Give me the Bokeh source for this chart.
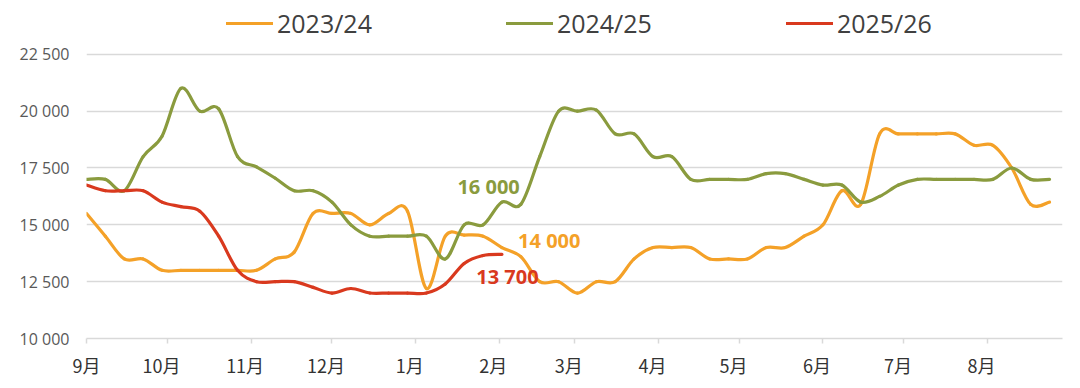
from bokeh.plotting import figure
from bokeh.models import Range1d, FixedTicker, Legend, LegendItem, ColumnDataSource
from bokeh.core.properties import value
from bokeh.embed import file_html
from bokeh.resources import INLINE

# ---- data (weekly) ----
season_2023_24 = [15500, 14500, 13500, 13500, 13000, 13000, 13000, 13000, 13000, 13000,
                  13500, 13800, 15500, 15500, 15500, 15000, 15500, 15600, 12200, 14500,
                  14550, 14500, 14000, 13600, 12500, 12500, 12000, 12500, 12500, 13500,
                  14000, 14000, 14000, 13500, 13500, 13500, 14000, 14000, 14500, 15000,
                  16500, 15900, 19000, 19000, 19000, 19000, 19000, 18500, 18500, 17500,
                  15900, 16000]
season_2024_25 = [17000, 17000, 16500, 18000, 18900, 21000, 20000, 20100, 18000, 17550,
                  17050, 16500, 16500, 16000, 15000, 14500, 14500, 14500, 14500, 13500,
                  15000, 15000, 16000, 15900, 18000, 20000, 20000, 20050, 19000, 19000,
                  18000, 18000, 17000, 17000, 17000, 17000, 17250, 17250, 17000, 16750,
                  16750, 16000, 16250, 16750, 17000, 17000, 17000, 17000, 17000, 17500,
                  17000, 17000]
season_2025_26 = [16750, 16500, 16500, 16500, 16000, 15800, 15600, 14500, 13000, 12500,
                  12500, 12500, 12250, 12000, 12200, 12000, 12000, 12000, 12000, 12400,
                  13300, 13650, 13700]

series_names = ["2023/24", "2024/25", "2025/26"]
series_colors = ["#F4A128", "#8A9B3E", "#D9391E"]

month_labels = ["9月", "10月", "11月", "12月", "1月", "2月", "3月", "4月", "5月", "6月", "7月", "8月"]
month_start_days = [0, 30, 61, 91, 122, 153, 181, 212, 242, 273, 303, 334]
y_ticks = [10000, 12500, 15000, 17500, 20000, 22500]
y_tick_labels = ["10 000", "12 500", "15 000", "17 500", "20 000", "22 500"]

last_labels = ["14 000", "16 000", "13 700"]
DAYS_PER_WEEK = 7
LABEL_SHIFT = -2.2  # month labels sit a little left of their tick marks


def smooth_segments(vals):
    """Excel-like smoothed line: one cubic Bezier per pair of points."""
    xs = [i * DAYS_PER_WEEK for i in range(len(vals))]
    n = len(vals)
    d = dict(x0=[], y0=[], x1=[], y1=[], cx0=[], cy0=[], cx1=[], cy1=[])
    for i in range(n - 1):
        p = max(i - 1, 0)
        q = min(i + 2, n - 1)
        d["x0"].append(xs[i]); d["y0"].append(vals[i])
        d["x1"].append(xs[i + 1]); d["y1"].append(vals[i + 1])
        d["cx0"].append(xs[i] + (xs[i + 1] - xs[p]) / 6.0)
        d["cy0"].append(vals[i] + (vals[i + 1] - vals[p]) / 6.0)
        d["cx1"].append(xs[i + 1] - (xs[q] - xs[i]) / 6.0)
        d["cy1"].append(vals[i + 1] - (vals[q] - vals[i]) / 6.0)
    return ColumnDataSource(d)


p = figure(width=1064, height=380, output_backend="svg", toolbar_location=None,
           x_range=Range1d(0, 361.8), y_range=Range1d(10000, 24868),
           min_border_left=86, min_border_right=2, min_border_bottom=41, min_border_top=0)
p.outline_line_color = None
p.background_fill_color = "white"
p.border_fill_color = "white"

renderers = []
for vals, col in zip([season_2023_24, season_2024_25, season_2025_26], series_colors):
    r = p.bezier(x0="x0", y0="y0", x1="x1", y1="y1", cx0="cx0", cy0="cy0", cx1="cx1", cy1="cy1",
                 source=smooth_segments(vals), line_color=col, line_width=3.2, line_cap="round")
    renderers.append(r)

# end-value labels
lab_src = ColumnDataSource(dict(
    x=[160.0, 137.5, 144.5],
    y=[14290, 16680, 12710],
    t=last_labels, c=series_colors))
p.text(x="x", y="y", text="t", text_color="c", source=lab_src,
       text_font=value("Open Sans"), text_font_style="bold", text_font_size="20px",
       text_align="left", text_baseline="middle")

# axes: labels on (slightly shifted) major ticks, tick marks drawn as minor ticks at month starts
label_pos = [max(d + LABEL_SHIFT, 0) for d in month_start_days]
p.xaxis.ticker = FixedTicker(ticks=label_pos, minor_ticks=month_start_days)
p.xaxis.major_label_overrides = {d: m for d, m in zip(label_pos, month_labels)}
p.xaxis.axis_line_color = "#D9D9D9"
p.xaxis.axis_line_width = 1.5
p.xaxis.major_tick_line_color = None
p.xaxis.major_tick_out = 5
p.xaxis.major_tick_in = 0
p.xaxis.minor_tick_line_color = "#D9D9D9"
p.xaxis.minor_tick_line_width = 1.5
p.xaxis.minor_tick_out = 5
p.xaxis.minor_tick_in = 0
p.xaxis.major_label_text_font = "Noto Sans CJK SC"
p.xaxis.major_label_text_font_size = "18px"
p.xaxis.major_label_text_color = "#333333"
p.xaxis.major_label_standoff = 8

p.yaxis.ticker = FixedTicker(ticks=y_ticks)
p.yaxis.major_label_overrides = {v: s for v, s in zip(y_ticks, y_tick_labels)}
p.yaxis.axis_line_color = None
p.yaxis.major_tick_line_color = None
p.yaxis.minor_tick_line_color = None
p.yaxis.major_label_text_font = "Open Sans"
p.yaxis.major_label_text_font_size = "16px"
p.yaxis.major_label_text_color = "#595959"
p.yaxis.major_label_standoff = 11

p.xgrid.grid_line_color = None
p.ygrid.ticker = FixedTicker(ticks=y_ticks)
p.ygrid.grid_line_color = "#D9D9D9"
p.ygrid.grid_line_width = 1.5

legend = Legend(items=[LegendItem(label=n, renderers=[r]) for n, r in zip(series_names, renderers)],
                orientation="horizontal", location=(140, 298),
                label_text_font="Open Sans", label_text_font_size="25px", label_text_color="#404040",
                glyph_width=47, glyph_height=20, label_standoff=4, spacing=134,
                padding=0, margin=0, border_line_color=None, background_fill_alpha=0)
p.add_layout(legend)

open("out.html", "w").write(file_html(p, INLINE))
